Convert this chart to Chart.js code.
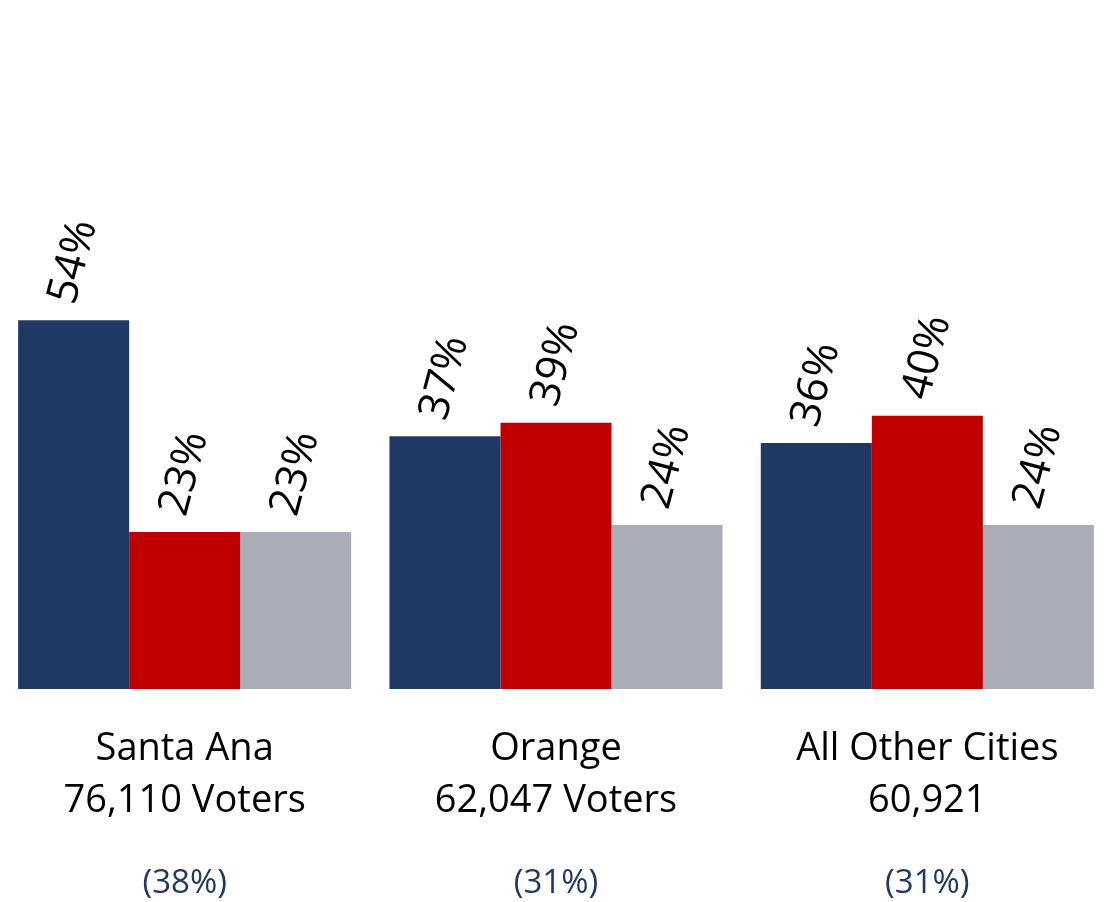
<!DOCTYPE html>
<html>
<head>
<meta charset="utf-8">
<script src="https://cdn.jsdelivr.net/npm/chart.js@4"></script>
<style>
  html, body { margin: 0; padding: 0; background: #fff; overflow: hidden; }
  #wrap { position: absolute; left: -1px; top: 0; width: 1114px; height: 902px; }
</style>
</head>
<body>
<div id="wrap"><canvas id="chart"></canvas></div>
<script>
// Values
const cities = ['Santa Ana', 'Orange', 'All Other Cities'];
const voterLines = ['76,110 Voters', '62,047 Voters', '60,921'];
const shareLabels = ['(38%)', '(31%)', '(31%)'];
const seriesA = [54, 37, 36];
const seriesB = [23, 39, 40];
const seriesC = [23, 24, 24];
const barColors = ['#1F3864', '#C00000', '#AAACB8'];

const FONT = '"Open Sans", sans-serif';

// value labels, rotated like the original
const valueLabels = {
    id: 'valueLabels',
    afterDatasetsDraw(chart) {
        const ctx = chart.ctx;
        ctx.save();
        ctx.font = '43px ' + FONT;
        ctx.fillStyle = '#000';
        ctx.textAlign = 'center';
        ctx.textBaseline = 'middle';
        const a = 75 * Math.PI / 180;
        chart.data.datasets.forEach((ds, i) => {
            chart.getDatasetMeta(i).data.forEach((bar, j) => {
                const txt = ds.data[j] + '%';
                const w = ctx.measureText(txt).width;
                const cy = bar.y - 12 - (w / 2) * Math.sin(a) - 21 * Math.cos(a);
                ctx.save();
                ctx.translate(bar.x, cy);
                ctx.rotate(-a);
                ctx.fillText(txt, 0, 0);
                ctx.restore();
            });
        });
        ctx.restore();
    }
};

// category labels under each group
const categoryText = {
    id: 'categoryText',
    afterDraw(chart) {
        const ctx = chart.ctx;
        const xs = chart.scales.x;
        ctx.save();
        ctx.textAlign = 'center';
        ctx.textBaseline = 'alphabetic';
        cities.forEach((c, i) => {
            const x = xs.getPixelForValue(i);
            ctx.font = '38px ' + FONT;
            ctx.fillStyle = '#000';
            ctx.fillText(c, x, 760);
            ctx.fillText(voterLines[i], x, 812);
            ctx.font = '33px ' + FONT;
            ctx.fillStyle = '#1F3864';
            ctx.fillText(shareLabels[i], x, 893);
        });
        ctx.restore();
    }
};

new Chart(document.getElementById('chart'), {
    type: 'bar',
    data: {
        labels: cities,
        datasets: [
            { data: seriesA, backgroundColor: barColors[0] },
            { data: seriesB, backgroundColor: barColors[1] },
            { data: seriesC, backgroundColor: barColors[2] }
        ]
    },
    options: {
        responsive: true,
        maintainAspectRatio: false,
        animation: false,
        layout: { padding: { top: 6, bottom: 213, left: 0, right: 0 } },
        datasets: {
            bar: { categoryPercentage: 0.897, barPercentage: 1, borderWidth: 0 }
        },
        scales: {
            x: { display: false, grid: { display: false } },
            y: { display: false, min: 0, max: 100 }
        },
        plugins: {
            legend: { display: false },
            tooltip: { enabled: false }
        }
    },
    plugins: [valueLabels, categoryText]
});
</script>
</body>
</html>
